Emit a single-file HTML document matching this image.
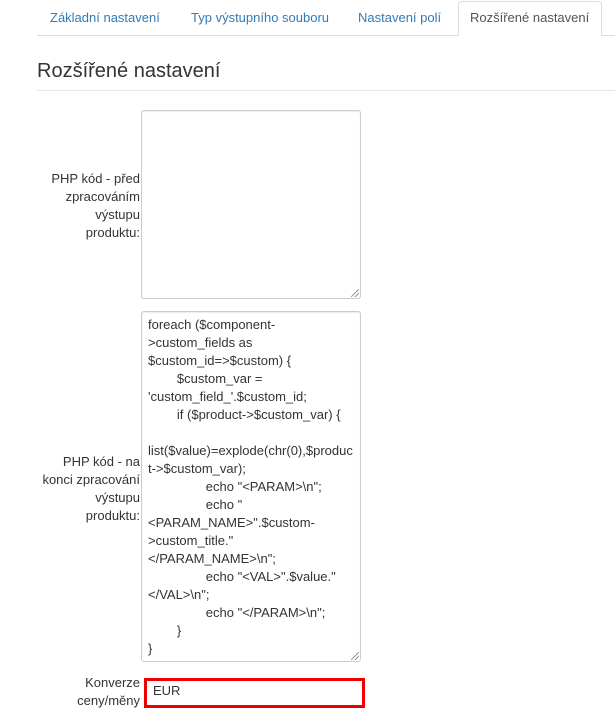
<!DOCTYPE html>
<html><head><meta charset="utf-8"><style>
body{margin:0;width:615px;height:721px;background:#fff;position:relative;overflow:hidden;font-family:"Liberation Sans",Arial,sans-serif;font-size:13px;color:#333}
.a{position:absolute}
.tab{position:absolute;top:10px;color:#337ab7;font-size:13px}
.lbl{position:absolute;right:475px;text-align:right;line-height:18px;color:#333;font-size:13px}
.ta{position:absolute;left:141px;width:220px;border:1px solid #ccc;border-radius:3px;box-sizing:border-box;box-shadow:inset 0 1px 1px rgba(0,0,0,.075)}
.code{position:absolute;left:148px;top:316px;line-height:18px;font-size:13px;white-space:pre;color:#333}
.grip{position:absolute;width:8px;height:8px;background:linear-gradient(135deg,transparent 45%,#999 45%,#999 55%,transparent 55%,transparent 70%,#999 70%,#999 80%,transparent 80%)}
</style></head><body>
<div class="a" style="left:37px;top:35px;width:578px;height:1px;background:#ddd"></div>
<div class="a" style="left:458px;top:1px;width:144px;height:35px;border:1px solid #ddd;border-bottom:1px solid #fff;border-radius:4px 4px 0 0;box-sizing:border-box;background:#fff"></div>
<div class="tab" style="left:50px">Základní nastavení</div>
<div class="tab" style="left:191px">Typ výstupního souboru</div>
<div class="tab" style="left:358px">Nastavení polí</div>
<div class="tab" style="left:470px;color:#555">Rozšířené nastavení</div>
<div class="a" style="left:37px;top:60px;font-size:20px;color:#333">Rozšířené nastavení</div>
<div class="a" style="left:37px;top:90px;width:578px;height:1px;background:#e5e5e5"></div>

<div class="ta" style="top:110px;height:189px"></div>
<div class="grip" style="left:351px;top:289px"></div>
<div class="lbl" style="top:170px">PHP kód - před<br>zpracováním<br>výstupu<br>produktu:</div>

<div class="ta" style="top:311px;height:351px"></div>
<div class="grip" style="left:351px;top:652px"></div>
<div class="lbl" style="top:453px">PHP kód - na<br>konci zpracování<br>výstupu<br>produktu:</div>
<div class="code">foreach ($component-
>custom_fields as
$custom_id=>$custom) {
        $custom_var =
'custom_field_'.$custom_id;
        if ($product->$custom_var) {

list($value)=explode(chr(0),$produc
t->$custom_var);
                echo "&lt;PARAM&gt;\n";
                echo "
&lt;PARAM_NAME&gt;".$custom-
>custom_title."
&lt;/PARAM_NAME&gt;\n";
                echo "&lt;VAL&gt;".$value."
&lt;/VAL&gt;\n";
                echo "&lt;/PARAM&gt;\n";
        }
}</div>

<div class="lbl" style="top:674px">Konverze<br>ceny/měny</div>
<div class="a" style="left:144px;top:678px;width:221px;height:30px;border:3px solid #e00;box-sizing:border-box"></div>
<div class="a" style="left:153px;top:683px;font-size:13px;color:#333">EUR</div>
</body></html>
